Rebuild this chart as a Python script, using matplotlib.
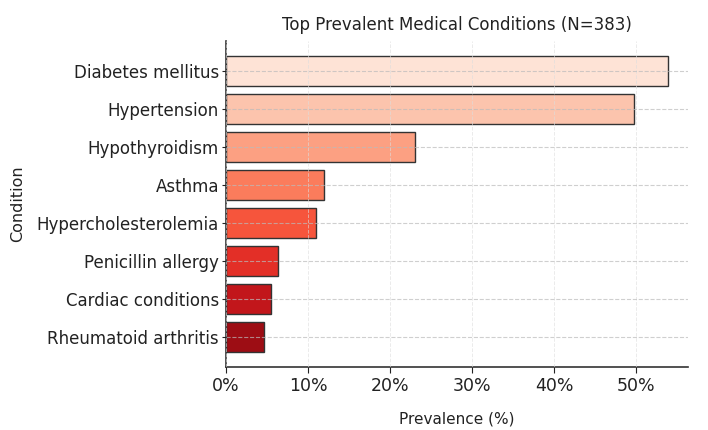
import matplotlib
matplotlib.use("Agg")
import matplotlib.pyplot as plt
import numpy as np
import seaborn as sns
from matplotlib.ticker import FuncFormatter

conditions = [
    "Diabetes mellitus",
    "Hypertension",
    "Hypothyroidism",
    "Asthma",
    "Hypercholesterolemia",
    "Penicillin allergy",
    "Cardiac conditions",
    "Rheumatoid arthritis",
]
prevalence = [53.8, 49.7, 23.0, 12.0, 11.0, 6.3, 5.5, 4.7]

colors = sns.color_palette("Reds", len(conditions))

fig, ax = plt.subplots(figsize=(7.08, 4.30), dpi=100)
y = np.arange(len(conditions))
ax.barh(y, prevalence, height=0.8, color=colors, edgecolor="#333333", linewidth=1.0)
ax.set_yticks(y)
ax.set_yticklabels(conditions, fontsize=12, color="#222222")
ax.invert_yaxis()
ax.set_xlim(0, 56.3)
ax.xaxis.set_major_formatter(FuncFormatter(lambda v, p: f"{v:.0f}%"))
ax.tick_params(axis="x", labelsize=12.5, colors="#222222", length=4)
ax.tick_params(axis="y", length=3, pad=2, colors="#222222")

ax.set_axisbelow(False)
ax.grid(axis="x", linestyle="--", color="#dddddd", linewidth=0.7, alpha=0.6)
ax.grid(axis="y", linestyle="--", color="#bbbbbb", linewidth=0.8, alpha=0.7)

for side in ["top", "right"]:
    ax.spines[side].set_visible(False)
for side in ["left", "bottom"]:
    ax.spines[side].set_color("#333333")
    ax.spines[side].set_linewidth(1.2)

ax.set_xlabel("Prevalence (%)", fontsize=11, color="#222222", labelpad=12)
ax.set_ylabel("Condition", fontsize=11.5, color="#222222", labelpad=8)
ax.set_title("Top Prevalent Medical Conditions (N=383)", fontsize=12, color="#222222", pad=8)

fig.subplots_adjust(left=0.319, right=0.972, top=0.905, bottom=0.147)
fig.savefig("out.png", dpi=100)
